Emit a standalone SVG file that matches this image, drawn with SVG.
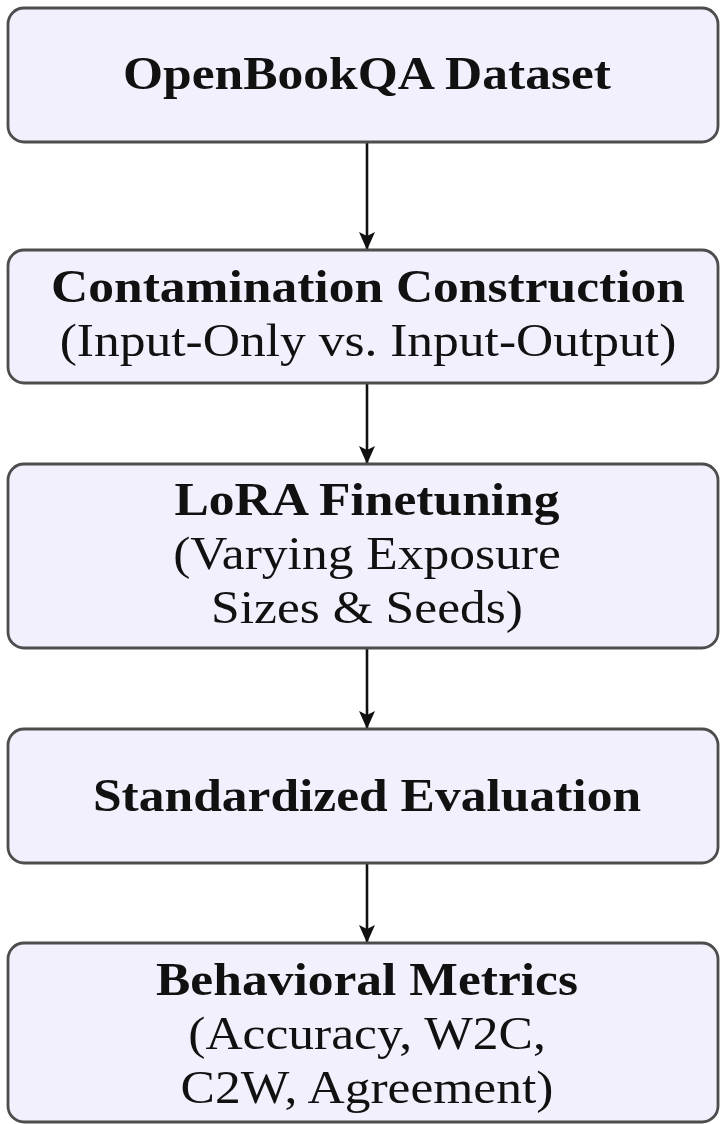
<svg xmlns="http://www.w3.org/2000/svg" width="720" height="1124" viewBox="0 0 720 1124">
  <style>
    .box { fill: #f1f0fc; stroke: #4d4d4d; stroke-width: 2.8; }
    .lbl { font-family: "Liberation Serif", "Times New Roman", serif; font-size: 46px; fill: #111111; text-anchor: middle; }
    .b { font-weight: bold; }
    .edge { stroke: #111111; stroke-width: 2.6; fill: none; marker-end: url(#head); }
  </style>
  <defs>
    <marker id="head" viewBox="0 0 18 16" refX="17" refY="8" markerWidth="18" markerHeight="16" markerUnits="userSpaceOnUse" orient="auto">
      <path d="M0,0 L18,8 L0,16 L4,8 Z" fill="#111111"/>
    </marker>
  </defs>
  <rect width="720" height="1124" fill="#ffffff"/>

  <!-- pipeline connectors -->
  <g id="connectors">
    <line class="edge" x1="367" y1="142" x2="367" y2="249"/>
    <line class="edge" x1="367" y1="383" x2="367" y2="463"/>
    <line class="edge" x1="367" y1="648" x2="367" y2="728"/>
    <line class="edge" x1="367" y1="863" x2="367" y2="942"/>
  </g>

  <g id="dataset">
    <rect class="box" x="8" y="8" width="710" height="134" rx="16"/>
    <text class="lbl b" x="0" y="89" transform="matrix(1.12 0 0 1 367 0)">OpenBookQA Dataset</text>
  </g>

  <g id="contamination">
    <rect class="box" x="8" y="250" width="710" height="133" rx="16"/>
    <text class="lbl b" x="0" y="302" transform="matrix(1.12 0 0 1 368 0)">Contamination Construction</text>
    <text class="lbl" x="0" y="356" transform="matrix(1.12 0 0 1 368 0)">(Input-Only vs. Input-Output)</text>
  </g>

  <g id="finetuning">
    <rect class="box" x="8" y="464" width="710" height="184" rx="16"/>
    <text class="lbl b" x="0" y="515" transform="matrix(1.12 0 0 1 367 0)">LoRA Finetuning</text>
    <text class="lbl" x="0" y="569" transform="matrix(1.12 0 0 1 367 0)">(Varying Exposure</text>
    <text class="lbl" x="0" y="623" transform="matrix(1.12 0 0 1 367 0)">Sizes &amp; Seeds)</text>
  </g>

  <g id="evaluation">
    <rect class="box" x="8" y="729" width="710" height="134" rx="16"/>
    <text class="lbl b" x="0" y="811" transform="matrix(1.12 0 0 1 367 0)">Standardized Evaluation</text>
  </g>

  <g id="metrics">
    <rect class="box" x="8" y="943" width="710" height="179" rx="16"/>
    <text class="lbl b" x="0" y="995" transform="matrix(1.12 0 0 1 367 0)">Behavioral Metrics</text>
    <text class="lbl" x="0" y="1049" transform="matrix(1.12 0 0 1 367 0)">(Accuracy, W2C,</text>
    <text class="lbl" x="0" y="1103" transform="matrix(1.12 0 0 1 367 0)">C2W, Agreement)</text>
  </g>
</svg>
